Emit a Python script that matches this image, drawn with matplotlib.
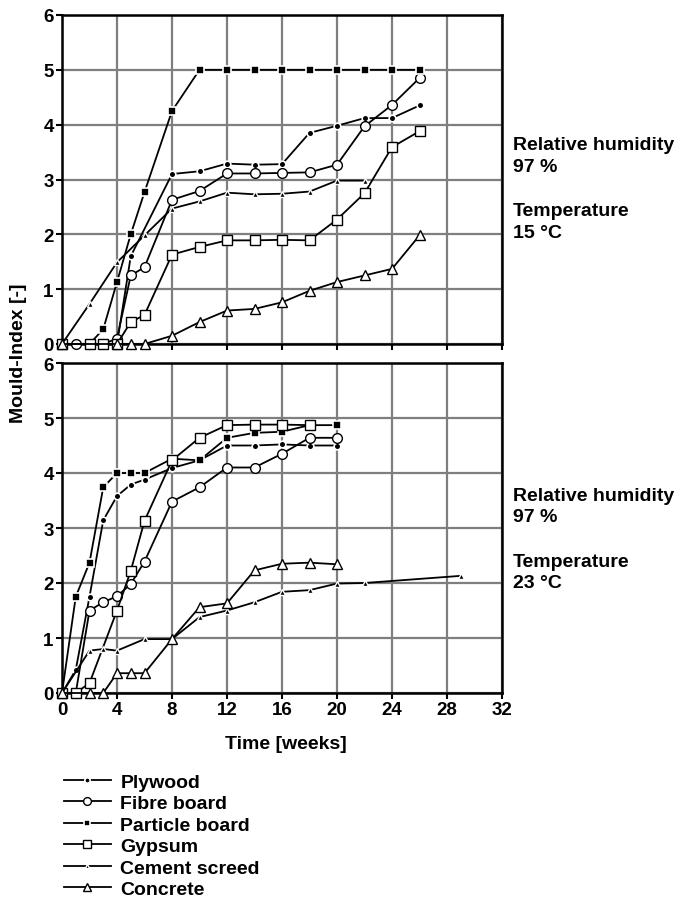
import numpy as np
import matplotlib
matplotlib.use("Agg")
import matplotlib.pyplot as plt

plt.rcParams['font.family'] = ['Liberation Sans', 'DejaVu Sans']
plt.rcParams['font.weight'] = 'bold'

labels = ["Plywood", "Fibre board", "Particle board", "Gypsum", "Cement screed", "Concrete"]

# top panel : RH 97 %, 15 C
ply15_x = [0, 2, 3, 4, 5, 8, 10, 12, 14, 16, 18, 20, 22, 24, 26]
ply15_y = [0, 0, 0, 0, 1.6, 3.1, 3.15, 3.29, 3.27, 3.28, 3.85, 3.98, 4.12, 4.12, 4.35]
fib15_x = [0, 1, 2, 3, 4, 5, 6, 8, 10, 12, 14, 16, 18, 20, 22, 24, 26]
fib15_y = [0, 0, 0, 0, 0.1, 1.25, 1.4, 2.63, 2.79, 3.11, 3.11, 3.12, 3.13, 3.27, 3.97, 4.36, 4.85]
par15_x = [0, 2, 3, 4, 5, 6, 8, 10, 12, 14, 16, 18, 20, 22, 24, 26]
par15_y = [0, 0, 0.27, 1.13, 2.0, 2.77, 4.25, 5, 5, 5, 5, 5, 5, 5, 5, 5]
gyp15_x = [0, 2, 3, 4, 5, 6, 8, 10, 12, 14, 16, 18, 20, 22, 24, 26]
gyp15_y = [0, 0, 0, 0, 0.4, 0.53, 1.63, 1.77, 1.89, 1.89, 1.9, 1.89, 2.27, 2.75, 3.59, 3.88]
cem15_x = [0, 2, 4, 6, 8, 10, 12, 14, 16, 18, 20, 22]
cem15_y = [0, 0.73, 1.49, 1.98, 2.47, 2.6, 2.76, 2.73, 2.74, 2.78, 2.98, 2.98]
con15_x = [0, 4, 5, 6, 8, 10, 12, 14, 16, 18, 20, 22, 24, 26]
con15_y = [0, 0, 0, 0, 0.15, 0.4, 0.61, 0.64, 0.76, 0.97, 1.13, 1.25, 1.37, 1.98]

# bottom panel : RH 97 %, 23 C
ply23_x = [0, 1, 2, 3, 4, 5, 6, 8, 10, 12, 14, 16, 18, 20]
ply23_y = [0, 0.42, 1.75, 3.14, 3.58, 3.79, 3.88, 4.09, 4.23, 4.5, 4.5, 4.52, 4.5, 4.5]
fib23_x = [0, 1, 2, 3, 4, 5, 6, 8, 10, 12, 14, 16, 18, 20]
fib23_y = [0, 0, 1.5, 1.65, 1.76, 1.98, 2.39, 3.48, 3.74, 4.1, 4.1, 4.35, 4.64, 4.64]
par23_x = [0, 1, 2, 3, 4, 5, 6, 8, 10, 12, 14, 16, 18, 20]
par23_y = [0, 1.75, 2.37, 3.74, 4.0, 4.0, 4.0, 4.26, 4.23, 4.64, 4.73, 4.75, 4.87, 4.87]
gyp23_x = [0, 1, 2, 4, 5, 6, 8, 10, 12, 14, 16, 18]
gyp23_y = [0, 0, 0.18, 1.5, 2.22, 3.13, 4.23, 4.64, 4.87, 4.88, 4.88, 4.87]
cem23_x = [0, 2, 3, 4, 6, 8, 10, 12, 14, 16, 18, 20, 22, 29]
cem23_y = [0, 0.77, 0.8, 0.77, 0.98, 0.98, 1.38, 1.5, 1.65, 1.84, 1.87, 1.99, 2.0, 2.13]
con23_x = [0, 2, 3, 4, 5, 6, 8, 10, 12, 14, 16, 18, 20]
con23_y = [0, 0, 0, 0.36, 0.36, 0.36, 0.98, 1.56, 1.63, 2.23, 2.35, 2.37, 2.34]

# marker styles (filled markers get a white halo so the line shows a gap)
styles = [
    dict(marker="o", ms=4.8, mfc="black", mec="white", mew=1.2),
    dict(marker="o", ms=7, mfc="white", mec="black", mew=1.0),
    dict(marker="s", ms=5.2, mfc="black", mec="white", mew=1.2),
    dict(marker="s", ms=7, mfc="white", mec="black", mew=1.0),
    dict(marker="^", ms=3.8, mfc="black", mec="white", mew=1.0),
    dict(marker="^", ms=7, mfc="white", mec="black", mew=1.0),
]

top = [(ply15_x, ply15_y), (fib15_x, fib15_y), (par15_x, par15_y),
       (gyp15_x, gyp15_y), (cem15_x, cem15_y), (con15_x, con15_y)]
bot = [(ply23_x, ply23_y), (fib23_x, fib23_y), (par23_x, par23_y),
       (gyp23_x, gyp23_y), (cem23_x, cem23_y), (con23_x, con23_y)]

fig = plt.figure(figsize=(6.83, 9.04), dpi=100)
ax1 = fig.add_axes([62/683, 1-345/904, 440/683, 329/904])
ax2 = fig.add_axes([62/683, 1-694/904, 440/683, 330/904])

handles = []
for ax, data in [(ax1, top), (ax2, bot)]:
    for i, (x, y) in enumerate(data):
        l, = ax.plot(x, y, color="black", lw=1.3, zorder=3, clip_on=False, **styles[i])
        if ax is ax2:
            handles.append(l)
    ax.set_xlim(0, 32)
    ax.set_ylim(0, 6)
    ax.set_xticks(np.arange(0, 33, 4))
    ax.set_yticks(np.arange(0, 7, 1))
    ax.grid(True, color="#7f7f7f", lw=1.6)
    ax.set_axisbelow(True)
    for s in ax.spines.values():
        s.set_linewidth(1.8)
    ax.tick_params(length=4, width=1.5, labelsize=13.5, pad=2)
    for t in ax.get_xticklabels() + ax.get_yticklabels():
        t.set_fontweight("bold")

ax1.tick_params(labelbottom=False)

fig.text(19/683, 1-353/904, "Mould-Index [-]", rotation=90, ha="center", va="center",
         fontsize=14, fontweight="bold")
fig.text(286/683, 1-745/904, "Time [weeks]", ha="center", va="center",
         fontsize=14, fontweight="bold")

def side_text(y0, temp):
    fig.text(513/683, 1-y0/904, "Relative humidity\n97 %", ha="left", va="baseline",
             fontsize=14, fontweight="bold", linespacing=1.38)
    fig.text(513/683, 1-(y0+66)/904, "Temperature\n" + temp, ha="left", va="baseline",
             fontsize=14, fontweight="bold", linespacing=1.38)

side_text(172, "15 °C")
side_text(522.5, "23 °C")

fig.legend(handles, labels, loc="upper left", bbox_to_anchor=(64/683, 1-774/904),
           frameon=False, fontsize=14, handlelength=2.4, handletextpad=0.5,
           labelspacing=0.2, borderaxespad=0, borderpad=0, markerscale=0.8)

fig.savefig("out.png", dpi=100)
